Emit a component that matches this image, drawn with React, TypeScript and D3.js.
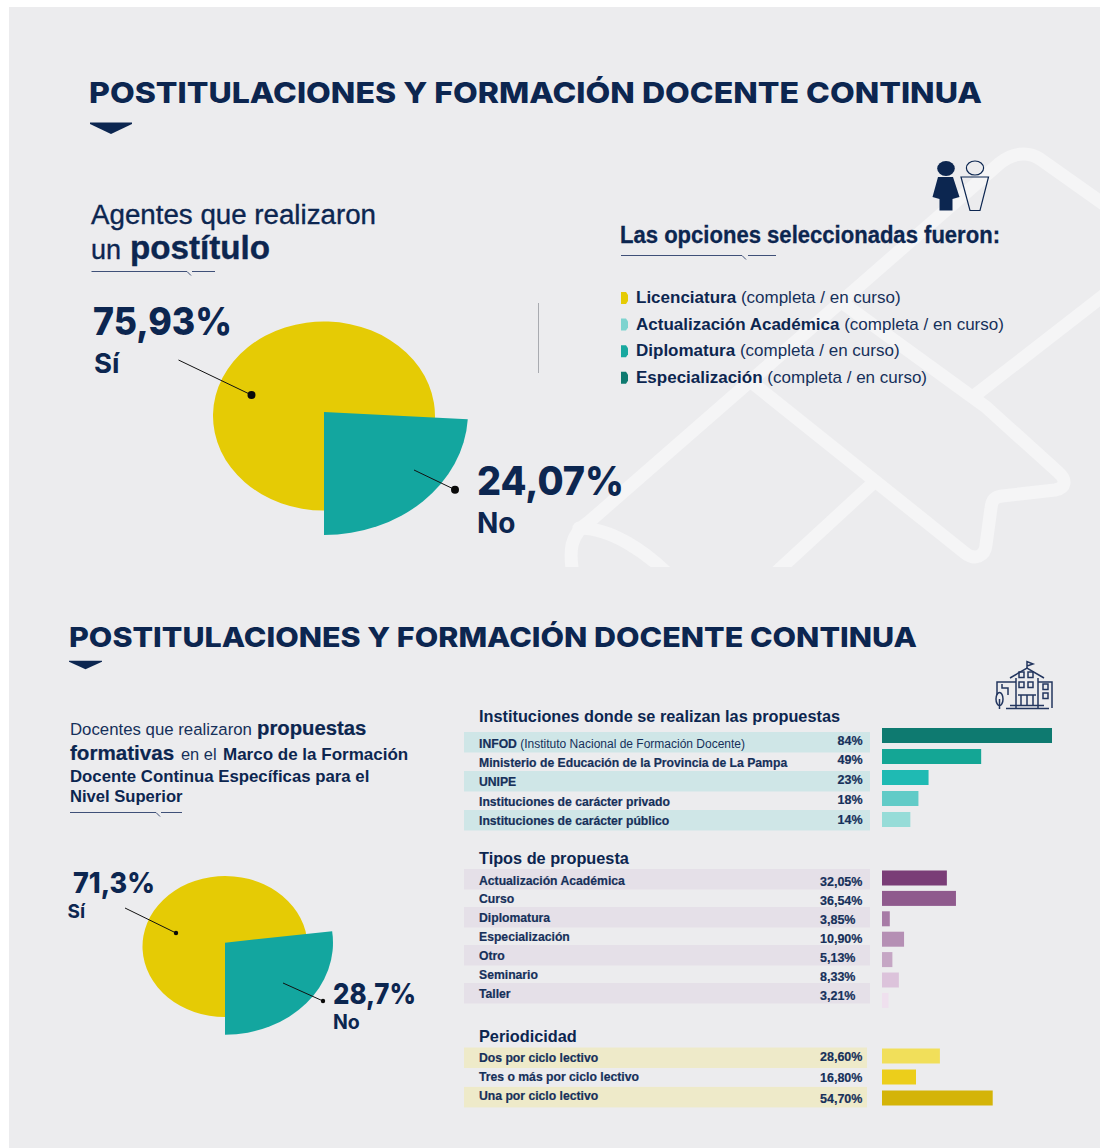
import React from "react";
import * as d3 from "d3";

const titleText = "POSTITULACIONES Y FORMACIÓN DOCENTE CONTINUA";

// first pie
const postituloLabels = ["75,93%", "24,07%"];
const postituloAnswers = ["Sí", "No"];
const postituloShares = [75.93, 24.07];

// second pie: the wedge as drawn in the picture is narrower than its printed label
const propuestasLabels = ["71,3%", "28,7%"];
const propuestasAnswers = ["Sí", "No"];
const propuestasDrawnShares = [73, 27];

const optionNames = ["Licenciatura", "Actualización Académica", "Diplomatura", "Especialización"];
const optionNote = "(completa / en curso)";
const optionColors = ["#e5cb05", "#7ed3cf", "#18a89f", "#0e7a70"];

const institutionNames = [
  "INFOD",
  "Ministerio de Educación de la Provincia de La Pampa",
  "UNIPE",
  "Instituciones de carácter privado",
  "Instituciones de carácter público",
];
const institutionValues = [84, 49, 23, 18, 14];
const institutionLabels = ["84%", "49%", "23%", "18%", "14%"];
const institutionColors = ["#0e7a70", "#14a695", "#1fbab3", "#61cbc7", "#97dcd8"];

const typeNames = ["Actualización Académica", "Curso", "Diplomatura", "Especialización", "Otro", "Seminario", "Taller"];
const typeValues = [32.05, 36.54, 3.85, 10.9, 5.13, 8.33, 3.21];
const typeLabels = ["32,05%", "36,54%", "3,85%", "10,90%", "5,13%", "8,33%", "3,21%"];
const typeColors = ["#7a3d77", "#8f5a8d", "#a77ba6", "#b58fb4", "#c5a6c4", "#dcc3db", "#efe0ee"];

const periodNames = ["Dos por ciclo lectivo", "Tres o más por ciclo lectivo", "Una por ciclo lectivo"];
const periodValues = [28.6, 16.8, 54.7];
const periodLabels = ["28,60%", "16,80%", "54,70%"];
const periodColors = ["#f1df5a", "#ecce1b", "#d4b408"];

const NAVY = "#0c2650";
const TEXT = "#16305a";
const YELLOW = "#e5cb05";
const TEAL = "#13a69f";
const BG = "#ececee";
const SANS = "'Liberation Sans', Arial, sans-serif";
const DISPLAY = "Inter, sans-serif";

const barX = d3.scaleLinear().domain([0, 84]).range([0, 170]);

function EllipsePie({ shares, cx, cy, rx, ry, teal }: any) {
  const slices = d3.pie<number>().sort(null).startAngle(Math.PI).endAngle(3 * Math.PI)(shares);
  const yellowArc = d3.arc<any>().innerRadius(0).outerRadius(rx);
  const tealArc = d3.arc<any>().innerRadius(0).outerRadius(teal.rx);
  return (
    <g>
      <path d={yellowArc(slices[0]) || ""} fill={YELLOW} transform={`translate(${cx},${cy}) scale(1,${ry / rx})`} />
      <path d={tealArc(slices[1]) || ""} fill={TEAL} transform={`translate(${cx},${teal.cy}) scale(1,${teal.ry / teal.rx})`} />
    </g>
  );
}

function Rule({ x0, x1, x2, x3, y }: any) {
  return <path d={`M${x0} ${y}H${x1}l4 4M${x2} ${y}H${x3}`} fill="none" stroke="#3f5078" strokeWidth={1} />;
}

function Chevron({ x, y, w, h }: any) {
  const s = h * 0.3;
  return <path d={`M${x} ${y}H${x + w}V${y + s * 0.4}L${x + w / 2} ${y + h}L${x} ${y + s * 0.4}Z`} fill={NAVY} />;
}

function Leader({ x1, y1, x2, y2, r }: any) {
  return (
    <g>
      <line x1={x1} y1={y1} x2={x2} y2={y2} stroke="#111" strokeWidth={1} />
      <circle cx={x2} cy={y2} r={r} fill="#0a0a0a" />
    </g>
  );
}

function Group({ names, labels, values, colors, bandColor, textY, labelY, barY, bandY, labelX, bandRight, first }: any) {
  return (
    <g>
      {names.map((n: string, i: number) =>
        i % 2 === 0 ? (
          <rect key={"b" + i} x={464} y={bandY(i)} width={bandRight - 464} height={20.5} fill={bandColor} />
        ) : null
      )}
      {names.map((n: string, i: number) => (
        <text key={"t" + i} x={479} y={textY(i)} fontFamily={SANS} fontWeight={700} fontSize={12.2} fill={TEXT} stroke={TEXT} strokeWidth={0.2}>
          {n}
          {i === 0 && first ? (
            <tspan fontWeight={400} fontSize={12} strokeWidth={0}>
              {" "}
              {first}
            </tspan>
          ) : null}
        </text>
      ))}
      {labels.map((l: string, i: number) => (
        <text key={"l" + i} x={labelX} y={labelY(i)} fontFamily={SANS} fontWeight={700} fontSize={12.5} fill={TEXT} stroke={TEXT} strokeWidth={0.2}>
          {l}
        </text>
      ))}
      {values.map((v: number, i: number) => (
        <rect key={"r" + i} x={882} y={barY(i)} width={barX(v)} height={15} fill={colors[i]} />
      ))}
    </g>
  );
}

function PersonIcons() {
  return (
    <g>
      <ellipse cx={946} cy={168.5} rx={8.8} ry={7.4} fill={NAVY} />
      <path d="M938 177H953L959.5 197L952.5 199V210.5H939.5V199L932.5 197Z" fill={NAVY} />
      <ellipse cx={975} cy={168} rx={8.6} ry={7} fill="none" stroke={NAVY} strokeWidth={1.2} />
      <path d="M961 177H988.5L980 210.5H970Z" fill="none" stroke={NAVY} strokeWidth={1.2} />
    </g>
  );
}

function SchoolIcon() {
  const windows = [
    [1019, 672], [1028, 672],
    [1019, 682], [1028, 682],
    [1043, 684], [1043, 693],
  ];
  return (
    <g fill="none" stroke="#23365f" strokeWidth={1.5}>
      <path d="M1027 668V661.5L1033 664L1027 666" />
      <path d="M1010 678L1027 668L1044 678" />
      <path d="M1016 678V708M1038 678V708" />
      <path d="M997 695V682H1016M1038 682H1052V708" />
      <path d="M1002 684V688H1008V695" />
      <path d="M1006 708.5H1049M1010 705.5H1044" strokeWidth={1.6} />
      <path d="M1018 695H1036M1021 695V705M1027 695V705M1033 695V705" />
      <ellipse cx={999.5} cy={699} rx={3.5} ry={6.5} />
      <path d="M999.5 699V709" />
      {windows.map(([x, y], i) => (
        <rect key={i} x={x} y={y} width={5} height={5.5} />
      ))}
    </g>
  );
}

export default function App() {
  const instBand = (i: number) => 732 + 19.5 * i;
  const typeBand = (i: number) => 869 + 19 * i;
  const perBand = (i: number) => 1047.5 + 19.7 * i;

  return (
    <svg
      width={1100}
      height={1148}
      viewBox="0 0 1100 1148"
      style={{ position: "absolute", left: 0, top: 0, display: "block", background: "#ffffff" }}
    >
      <defs>
        <clipPath id="diplomaClip">
          <rect x={0} y={0} width={1100} height={567} />
        </clipPath>
      </defs>
      <rect x={9} y={7} width={1091} height={1141} fill={BG} />

      <g clipPath="url(#diplomaClip)" fill="none" stroke="#f5f5f6" strokeWidth={13} strokeLinejoin="round" strokeLinecap="round">
        <path d="M574 580C568 550 570 534 590 521L1000 163C1012 153 1028 151 1040 159L1112 210" />
        <path d="M579 528C610 528 645 550 674 580" />
        <path d="M750 381L965 553C975 561 985 556 986 545L991 508C992 499 995 497 1002 496L1055 490C1066 488 1067 480 1058 472L986 407L840 301" />
        <path d="M974 396L1112 289" />
        <path d="M872 484L770 578" />
      </g>

      {/* section 1 */}
      <text x={89} y={103} fontFamily={DISPLAY} fontWeight={800} fontSize={29} fill={NAVY} textLength={893} lengthAdjust="spacingAndGlyphs">
        {titleText}
      </text>
      <Chevron x={90} y={122.5} w={42} h={11.5} />

      <text x={91} y={224} fontFamily={SANS} fontSize={27} fill={NAVY} stroke={NAVY} strokeWidth={0.35} textLength={285} lengthAdjust="spacingAndGlyphs">
        Agentes que realizaron
      </text>
      <text x={91} y={259} fontFamily={SANS} fontSize={27} fill={NAVY} stroke={NAVY} strokeWidth={0.35}>
        un
      </text>
      <text x={130} y={259} fontFamily={SANS} fontWeight={700} fontSize={34} fill={NAVY} stroke={NAVY} strokeWidth={0.4} textLength={140} lengthAdjust="spacingAndGlyphs">
        postítulo
      </text>
      <Rule x0={91.5} x1={187} x2={192} x3={215} y={271.5} />

      <EllipsePie shares={postituloShares} cx={324} cy={416} rx={111} ry={94.5} teal={{ cy: 412, rx: 144, ry: 123 }} />
      <Leader x1={178.5} y1={360} x2={251.5} y2={395} r={4} />
      <Leader x1={414} y1={470} x2={455} y2={489.7} r={4} />

      <text x={93} y={335} fontFamily={DISPLAY} fontWeight={800} fontSize={38} fill={NAVY} textLength={139} lengthAdjust="spacingAndGlyphs">
        {postituloLabels[0]}
      </text>
      <text x={94} y={373} fontFamily={DISPLAY} fontWeight={700} fontSize={27.5} fill={NAVY}>
        {postituloAnswers[0]}
      </text>
      <text x={477} y={495} fontFamily={DISPLAY} fontWeight={800} fontSize={39} fill={NAVY} textLength={147} lengthAdjust="spacingAndGlyphs">
        {postituloLabels[1]}
      </text>
      <text x={477} y={533} fontFamily={DISPLAY} fontWeight={700} fontSize={28} fill={NAVY}>
        {postituloAnswers[1]}
      </text>

      <line x1={538.5} y1={303} x2={538.5} y2={373} stroke="#a9abb0" strokeWidth={1} />

      <PersonIcons />
      <text x={620} y={243} fontFamily={SANS} fontWeight={700} fontSize={23} fill={NAVY} stroke={NAVY} strokeWidth={0.3} textLength={380} lengthAdjust="spacingAndGlyphs">
        Las opciones seleccionadas fueron:
      </text>
      <Rule x0={621} x1={742} x2={748} x3={776} y={255.5} />

      {optionNames.map((n, i) => {
        const y = 303 + i * 26.6;
        return (
          <g key={n}>
            <path d={`M621 ${y - 11}H626L628 ${y - 8}V${y - 2}L626 ${y + 1}H621Z`} fill={optionColors[i]} />
            <text x={636} y={y} fontFamily={SANS} fontSize={17} fill={TEXT}>
              <tspan fontWeight={700} fill={NAVY}>{n}</tspan> {optionNote}
            </text>
          </g>
        );
      })}

      {/* section 2 */}
      <text x={69} y={647} fontFamily={DISPLAY} fontWeight={800} fontSize={27.5} fill={NAVY} textLength={848} lengthAdjust="spacingAndGlyphs">
        {titleText}
      </text>
      <Chevron x={69} y={660.7} w={33} h={8.5} />

      <text x={70} y={735} fontFamily={SANS} fontSize={16.8} fill={TEXT}>
        Docentes que realizaron
      </text>
      <text x={257} y={735} fontFamily={SANS} fontWeight={700} fontSize={20.3} fill={NAVY} stroke={NAVY} strokeWidth={0.2}>
        propuestas
      </text>
      <text x={70} y={760} fontFamily={SANS} fontWeight={700} fontSize={20.6} fill={NAVY} stroke={NAVY} strokeWidth={0.2}>
        formativas
      </text>
      <text x={181} y={760} fontFamily={SANS} fontSize={16.4} fill={TEXT}>
        en el
      </text>
      <text x={223} y={760} fontFamily={SANS} fontWeight={700} fontSize={17} fill={NAVY}>
        Marco de la Formación
      </text>
      <text x={70} y={782} fontFamily={SANS} fontWeight={700} fontSize={16.8} fill={NAVY}>
        Docente Continua Específicas para el
      </text>
      <text x={70} y={802} fontFamily={SANS} fontWeight={700} fontSize={16.6} fill={NAVY}>
        Nivel Superior
      </text>
      <Rule x0={70} x1={156} x2={161} x3={182} y={812.5} />

      <EllipsePie shares={propuestasDrawnShares} cx={225} cy={946.5} rx={82.5} ry={70.5} teal={{ cy: 942.7, rx: 108, ry: 92 }} />
      <Leader x1={125} y1={908} x2={176} y2={933} r={2.2} />
      <Leader x1={283} y1={983} x2={323} y2={1001} r={2.2} />

      <text x={73} y={893} fontFamily={DISPLAY} fontWeight={800} fontSize={29} fill={NAVY} textLength={82} lengthAdjust="spacingAndGlyphs">
        {propuestasLabels[0]}
      </text>
      <text x={67.5} y={918} fontFamily={DISPLAY} fontWeight={700} fontSize={19} fill={NAVY}>
        {propuestasAnswers[0]}
      </text>
      <text x={333} y={1004} fontFamily={DISPLAY} fontWeight={800} fontSize={29} fill={NAVY} textLength={83} lengthAdjust="spacingAndGlyphs">
        {propuestasLabels[1]}
      </text>
      <text x={333} y={1029} fontFamily={DISPLAY} fontWeight={700} fontSize={19.5} fill={NAVY}>
        {propuestasAnswers[1]}
      </text>

      <SchoolIcon />

      <text x={479} y={722} fontFamily={SANS} fontWeight={700} fontSize={16.3} fill={NAVY}>
        Instituciones donde se realizan las propuestas
      </text>
      <Group
        names={institutionNames}
        first="(Instituto Nacional de Formación Docente)"
        labels={institutionLabels}
        values={institutionValues}
        colors={institutionColors}
        bandColor="#cfe6e7"
        bandY={instBand}
        textY={(i: number) => 748 + 19.2 * i}
        labelY={(i: number) => 744.5 + 19.8 * i}
        barY={(i: number) => 728 + 21 * i}
        labelX={837.5}
        bandRight={870}
      />

      <text x={479} y={864} fontFamily={SANS} fontWeight={700} fontSize={16.3} fill={NAVY}>
        Tipos de propuesta
      </text>
      <Group
        names={typeNames}
        labels={typeLabels}
        values={typeValues}
        colors={typeColors}
        bandColor="#e5e0e8"
        bandY={typeBand}
        textY={(i: number) => 884.5 + 18.9 * i}
        labelY={(i: number) => 885.5 + 19 * i}
        barY={(i: number) => 870.5 + 20.4 * i}
        labelX={820}
        bandRight={870}
      />

      <text x={479} y={1042} fontFamily={SANS} fontWeight={700} fontSize={16.3} fill={NAVY}>
        Periodicidad
      </text>
      <Group
        names={periodNames}
        labels={periodLabels}
        values={periodValues}
        colors={periodColors}
        bandColor="#eeeac9"
        bandY={perBand}
        textY={(i: number) => 1062 + 19 * i}
        labelY={(i: number) => 1060.5 + 21 * i}
        barY={(i: number) => 1048.5 + 21 * i}
        labelX={820}
        bandRight={867}
      />
    </svg>
  );
}
